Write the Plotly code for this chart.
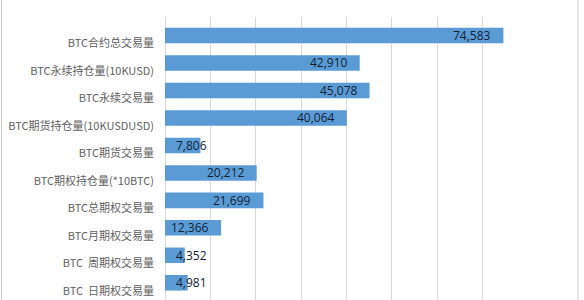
import plotly.graph_objects as go

# Category names (top to bottom) and their values
categories = [
    "BTC合约总交易量",
    "BTC永续持仓量(10KUSD)",
    "BTC永续交易量",
    "BTC期货持仓量(10KUSDUSD)",
    "BTC期货交易量",
    "BTC期权持仓量(*10BTC)",
    "BTC总期权交易量",
    "BTC月期权交易量",
    "BTC  周期权交易量",
    "BTC  日期权交易量",
]
values = [74583, 42910, 45078, 40064, 7806, 20212, 21699, 12366, 4352, 4981]
x_ticks = [0, 10000, 20000, 30000, 40000, 50000, 60000, 70000, 80000]

W, H = 584, 300
LEFT, RIGHT, TOP, BOTTOM = 165, 56, 17, 0
BAR_COLOR = "#5b9bd5"
GRID = "#d9d9d9"
BAR_W = 0.565        # bar thickness in category units
BAR_SHIFT = -0.29    # bars sit in the upper part of each category band

fig = go.Figure(
    go.Bar(
        x=values,
        y=categories,
        orientation="h",
        width=BAR_W,
        offset=BAR_SHIFT - BAR_W / 2,
        marker=dict(color=BAR_COLOR, line=dict(width=0)),
        hoverinfo="skip",
    )
)

# Value labels: right-aligned just inside the bar end; short bars get the label at the axis start
for cat, v in zip(categories, values):
    short = v < 10000
    fig.add_annotation(
        x=0 if short else v,
        y=cat,
        xref="x",
        yref="y",
        text=f"{v:,}",
        showarrow=False,
        xanchor="left" if short else "right",
        xshift=9 if short else -10,
        yshift=8,
        font=dict(family="Open Sans, sans-serif", size=12, color="#141e33"),
    )

# Thin chart frame on the left and right sides
plot_w = W - LEFT - RIGHT
for px in (1.5, 578):
    xp = (px - LEFT) / plot_w
    fig.add_shape(
        type="line",
        xref="paper",
        yref="paper",
        x0=xp,
        x1=xp,
        y0=-0.1,
        y1=1.2,
        line=dict(color="#d0d0d0", width=1),
        layer="below",
    )

n = len(categories)
fig.update_layout(
    width=W,
    height=H,
    margin=dict(l=LEFT, r=RIGHT, t=TOP, b=BOTTOM, pad=0),
    paper_bgcolor="white",
    plot_bgcolor="white",
    showlegend=False,
    xaxis=dict(
        range=[0, 80000],
        tickvals=x_ticks,
        showticklabels=False,
        showgrid=True,
        gridcolor=GRID,
        gridwidth=1,
        zeroline=True,
        zerolinecolor=GRID,
        zerolinewidth=1,
        showline=False,
        fixedrange=True,
    ),
    yaxis=dict(
        type="category",
        categoryorder="array",
        categoryarray=categories,
        range=[n - 1 + 0.337, -0.965],
        showgrid=False,
        zeroline=False,
        showline=False,
        ticks="",
        ticklabelstandoff=10,
        tickfont=dict(family="Noto Sans CJK SC, sans-serif", size=11, color="#5f5f5f"),
        fixedrange=True,
    ),
)

fig.write_html("out.html")
